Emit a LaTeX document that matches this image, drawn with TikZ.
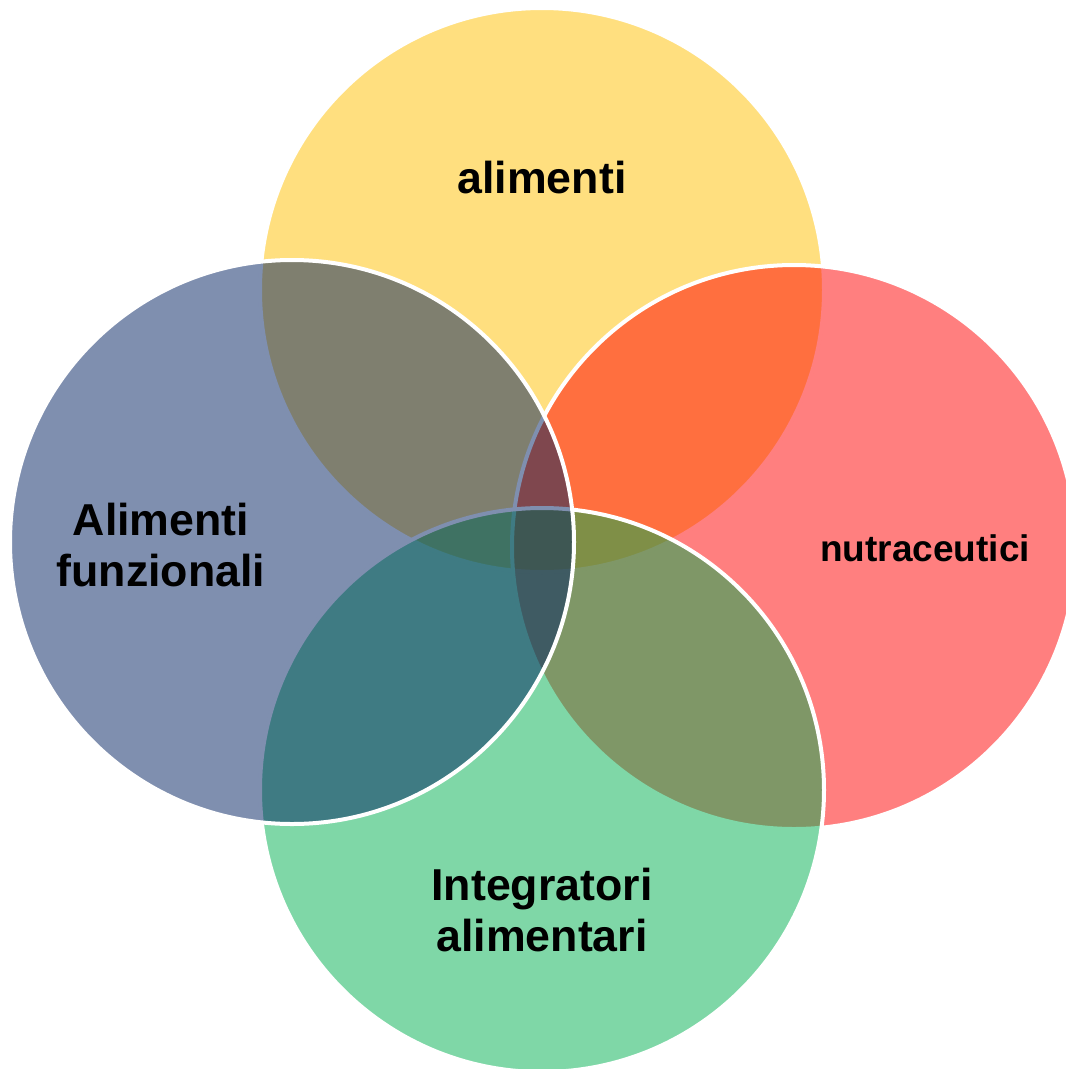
\documentclass[tikz,border=0pt]{standalone}
\usepackage{fontspec}
\setmainfont{Liberation Sans}
\definecolor{cyel}{HTML}{FFC000}
\definecolor{cred}{HTML}{FF0000}
\definecolor{cgrn}{HTML}{00B050}
\definecolor{cblu}{HTML}{002060}
\begin{document}
\begin{tikzpicture}[x=1pt,y=-1pt,
  venn/.style={circle,minimum size=564pt,inner sep=0pt,draw=white,line width=4pt,fill opacity=0.5},
  lbl/.style={font=\fontsize{44.7}{51}\selectfont\bfseries,align=center,text=black}]
\useasboundingbox (0,0) rectangle (1066,1069);
\clip (0,0) rectangle (1066,1069);
\node[venn,fill=cyel] (top) at (542,290) {};
\node[venn,fill=cred] (right) at (794,547) {};
\node[venn,fill=cgrn] (bottom) at (542,790) {};
\node[venn,fill=cblu] (left) at (292,542) {};
\node[lbl] (t1) at (542,178) {alimenti};
\node[lbl,font=\fontsize{37}{42}\selectfont\bfseries] (t2) at (925,548) {nutraceutici};
\node[lbl] (t3) at (161,545) {Alimenti\\funzionali};
\node[lbl] (t4) at (542,910) {Integratori\\alimentari};
\end{tikzpicture}
\end{document}
